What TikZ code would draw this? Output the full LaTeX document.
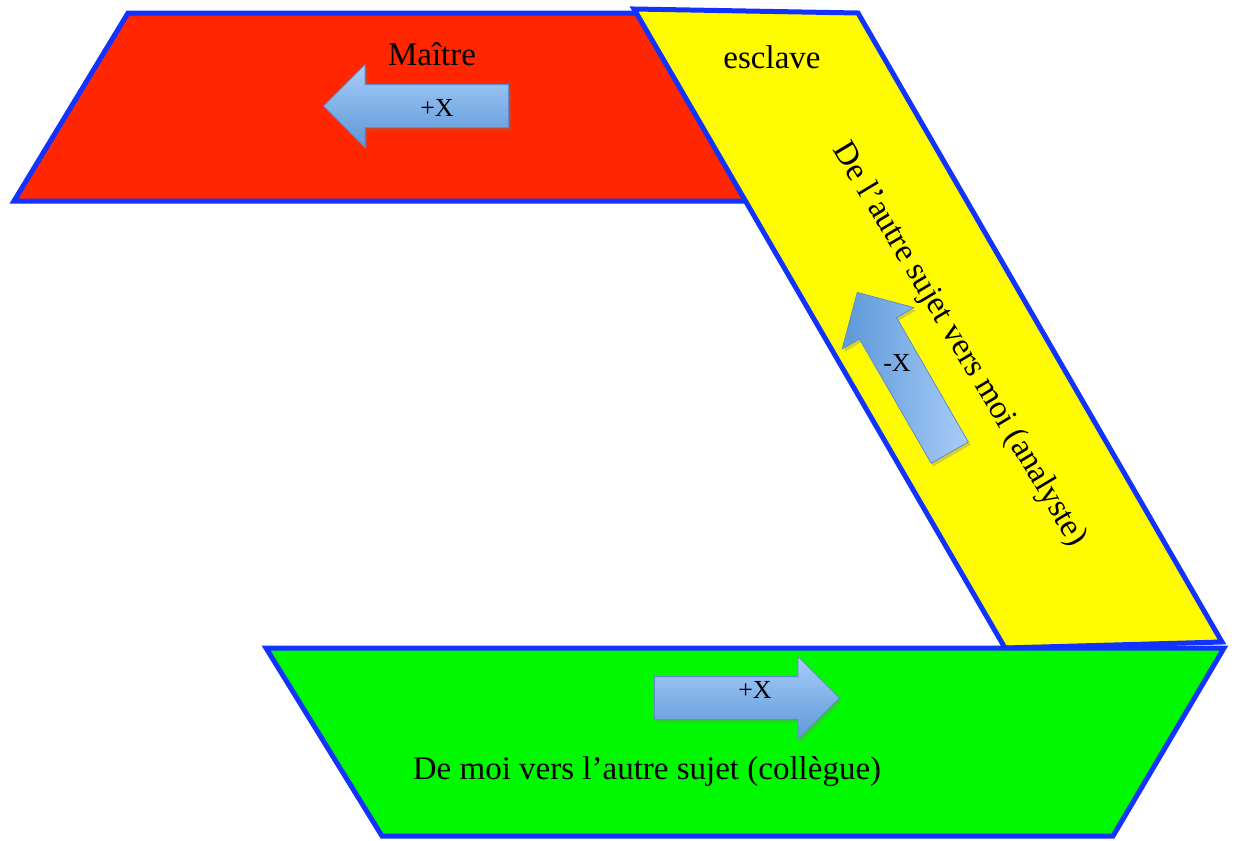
\documentclass[tikz,border=0pt]{standalone}
\usepackage{fontspec}
\setmainfont{Liberation Serif}
\usetikzlibrary{shapes.arrows, shadows}
\definecolor{rouge}{RGB}{255,38,0}
\definecolor{jaune}{RGB}{255,251,0}
\definecolor{vert}{RGB}{0,249,0}
\definecolor{bordbleu}{RGB}{18,50,255}
\definecolor{bleuclair}{RGB}{168,204,248}
\definecolor{bleufonce}{RGB}{92,152,216}
\definecolor{bleutrait}{RGB}{95,140,205}
\begin{document}
\begin{tikzpicture}[x=1pt, y=-1pt, zone/.style={draw=bordbleu, line width=5pt, line join=miter}, fleche/.style={single arrow, draw=bleutrait, line width=0.8pt, inner xsep=0pt, inner ysep=21pt, minimum height=185pt, minimum width=82pt, single arrow head extend=20pt, drop shadow={opacity=0.35, shadow xshift=2pt, shadow yshift=-3pt}}, titre/.style={font=\fontsize{33}{38}\selectfont}, signe/.style={font=\fontsize{26}{30}\selectfont}]
	\useasboundingbox (0,0) rectangle (1235,841);
	% les trois bandes
	\filldraw[zone, fill=rouge] (128,13) -- (645,13) -- (752,201) -- (14,201) -- cycle;
	\filldraw[zone, fill=jaune] (634,9) -- (858,13) -- (1222,642) -- (1005,648) -- cycle;
	\filldraw[zone, fill=vert] (266,648) -- (1224,648) -- (1113,836) -- (382,836) -- cycle;
	% fleches
	\node[fleche, shape border rotate=180, anchor=tail, top color=bleuclair, bottom color=bleufonce] (fm) at (509,106) {};
	\node[fleche, rotate=120, anchor=tail, left color=bleufonce, right color=bleuclair] (fe) at (950,453) {};
	\node[fleche, anchor=tail, top color=bleuclair, bottom color=bleufonce] (fc) at (654,698) {};
	% textes
	\node[titre] (maitre) at (432,54) {Maître};
	\node[titre] (esclave) at (772,57) {esclave};
	\node[titre, rotate=-59] (analyste) at (959,345) {De l’autre sujet vers moi (analyste)};
	\node[titre] (collegue) at (647,772) {De moi vers l’autre sujet (collègue)};
	\node[signe] (xm) at (437,108) {+X};
	\node[signe] (xe) at (897,363) {-X};
	\node[signe] (xc) at (755,690) {+X};
\end{tikzpicture}
\end{document}
